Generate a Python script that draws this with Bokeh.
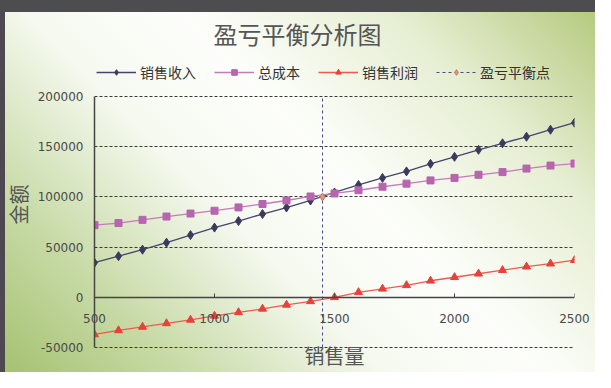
from bokeh.plotting import figure
from bokeh.models import (Range1d, Legend, LegendItem, FixedTicker, NumeralTickFormatter,
                          LinearAxis)
from bokeh.embed import file_html
from bokeh.resources import INLINE

# ---- data ----
volume = [500, 600, 700, 800, 900, 1000, 1100, 1200, 1300, 1400, 1500,
          1600, 1700, 1800, 1900, 2000, 2100, 2200, 2300, 2400, 2500]
revenue = [34500, 41000, 47500, 54500, 62000, 69500, 76000, 83000, 89500, 96500, 104500,
           112000, 119000, 125500, 133000, 140000, 147000, 153500, 160000, 167000, 174000]
total_cost = [71900, 74000, 77200, 80500, 83500, 86300, 89600, 93000, 96500, 100500, 103500,
              106700, 110200, 113300, 116500, 119000, 122100, 124800, 128300, 131300, 133300]
profit = [-37000, -33000, -29500, -26000, -22500, -18500, -15000, -11500, -7500, -4000, 0,
          5000, 8500, 12000, 16500, 20000, 23500, 27000, 30500, 33500, 37000]
breakeven_volume = [1450, 1450]
breakeven_line_amount = [-50000, 200000]
breakeven_point_volume = [1450]
breakeven_point_amount = [100000]

x_ticks = [500, 1000, 1500, 2000, 2500]
y_ticks = [-50000, 0, 50000, 100000, 150000, 200000]

title_text = "盈亏平衡分析图"
series_names = ["销售收入", "总成本", "销售利润", "盈亏平衡点"]
x_label = "销售量"
y_label = "金额"

CJK = "Noto Sans CJK SC"
PAD_LOW = 1000     # keeps the bottom grid line visible
HEADROOM = 36000   # room inside the frame for the legend row

p = figure(width=595, height=372,
           x_range=Range1d(x_ticks[0], x_ticks[-1]),
           y_range=Range1d(y_ticks[0] - PAD_LOW, y_ticks[-1] + HEADROOM),
           output_backend="svg", toolbar_location=None,
           min_border_left=93, min_border_right=21, min_border_top=60, min_border_bottom=22,
           border_fill_color=None, background_fill_color=None, outline_line_color=None)

p.styles = {
    "background-image": ("linear-gradient(#4d4d4f, #4d4d4f), linear-gradient(#4e4850, #4e4850), "
                         "linear-gradient(45deg, #a4c170 0%, #cadcaa 20%, #f6f9f0 40%, "
                         "#fdfefb 56%, #e6eed2 78%, #b3c87b 100%)"),
    "background-size": "100% 12px, 5px 100%, 100% 100%",
    "background-repeat": "no-repeat",
    "background-position": "0 0, 0 0, 0 0",
}

# title
p.title.text = title_text
p.title.text_font = CJK
p.title.text_font_size = "24px"
p.title.text_font_style = "normal"
p.title.text_color = "#555555"
p.title.align = "left"
p.title.offset = 119
p.title.standoff = 20

# grid
p.xgrid.visible = False
p.ygrid.ticker = FixedTicker(ticks=y_ticks)
p.ygrid.grid_line_color = "#3a3a3a"
p.ygrid.grid_line_dash = "3 2"
p.ygrid.grid_line_width = 1

# x axis: line + ticks at zero
p.xaxis.ticker = FixedTicker(ticks=x_ticks)
p.xaxis.fixed_location = 0
p.xaxis.axis_line_color = "#444444"
p.xaxis.axis_line_width = 1.5
p.xaxis.major_tick_in = 4
p.xaxis.major_tick_out = 0
p.xaxis.major_tick_line_color = "#444444"
p.xaxis.minor_tick_line_color = None
p.xaxis.major_label_text_color = None

# x axis labels and title (outside the clipped frame, labels moved up next to the zero line)
xlab = LinearAxis(ticker=FixedTicker(ticks=x_ticks), axis_line_color=None,
                  major_tick_line_color=None, minor_tick_line_color=None,
                  major_tick_in=0, major_tick_out=0,
                  major_label_standoff=-35, major_label_text_font="DejaVu Sans",
                  major_label_text_font_size="12px", major_label_text_color="#4a4a4a",
                  axis_label=x_label, axis_label_text_font=CJK, axis_label_text_font_size="20px",
                  axis_label_text_font_style="normal", axis_label_text_color="#555555",
                  axis_label_standoff=15)
p.add_layout(xlab, "below")

p.yaxis.ticker = FixedTicker(ticks=y_ticks)
p.yaxis.formatter = NumeralTickFormatter(format="0")
p.yaxis.bounds = (y_ticks[0], y_ticks[-1])
p.yaxis.axis_line_color = "#444444"
p.yaxis.axis_line_width = 1.5
p.yaxis.major_tick_in = 0
p.yaxis.major_tick_out = 0
p.yaxis.minor_tick_line_color = None
p.yaxis.major_label_standoff = 11
p.yaxis.major_label_text_font = "DejaVu Sans"
p.yaxis.major_label_text_font_size = "12px"
p.yaxis.major_label_text_color = "#4a4a4a"
p.yaxis.axis_label = y_label
p.yaxis.axis_label_text_font = CJK
p.yaxis.axis_label_text_font_size = "20px"
p.yaxis.axis_label_text_font_style = "normal"
p.yaxis.axis_label_text_color = "#555555"
p.yaxis.axis_label_standoff = 2

# series
r1l = p.line(volume, revenue, line_color="#46446e", line_width=1.3)
r1m = p.scatter(volume, revenue, marker="diamond", size=9, fill_color="#3c3a5c", line_color="#3c3a5c")
r2l = p.line(volume, total_cost, line_color="#c679bd", line_width=1.3)
r2m = p.scatter(volume, total_cost, marker="square", size=7, fill_color="#b665ae", line_color="#b665ae")
r3l = p.line(volume, profit, line_color="#ee5a4e", line_width=1.3)
r3m = p.scatter(volume, profit, marker="triangle", size=8, fill_color="#e8413a", line_color="#e8413a")
r4l = p.line(breakeven_volume, breakeven_line_amount, line_color="#4a4a8e", line_width=1, line_dash="3 3")
r4m = p.scatter(breakeven_point_volume, breakeven_point_amount, marker="diamond", size=8,
                fill_color="#e39a6a", line_color="#b87a70")

legend = Legend(items=[
    LegendItem(label=series_names[0], renderers=[r1l, r1m]),
    LegendItem(label=series_names[1], renderers=[r2l, r2m]),
    LegendItem(label=series_names[2], renderers=[r3l, r3m]),
    LegendItem(label=series_names[3], renderers=[r4l, r4m]),
], orientation="horizontal", location="top_left",
    label_text_font=CJK, label_text_font_size="14px", label_text_color="#333333",
    glyph_width=40, glyph_height=14, label_standoff=4, spacing=18, padding=0, margin=2,
    background_fill_alpha=0, border_line_color=None)
p.add_layout(legend, "center")

html = file_html(p, INLINE)
open("out.html", "w").write(html)
